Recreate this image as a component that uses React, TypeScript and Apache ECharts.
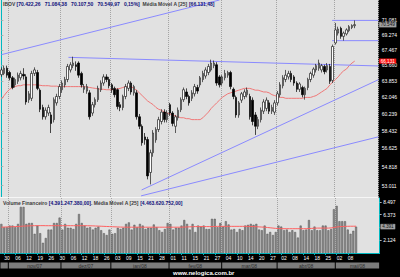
import React, { useEffect, useRef } from 'react';
import * as echarts from 'echarts';

const dates = [
  '2007-10-29','2007-10-30','2007-10-31',
  '2007-11-01','2007-11-05','2007-11-06','2007-11-07','2007-11-08','2007-11-09','2007-11-12','2007-11-13','2007-11-14','2007-11-16','2007-11-19','2007-11-21','2007-11-22','2007-11-23','2007-11-26','2007-11-27','2007-11-28','2007-11-29','2007-11-30',
  '2007-12-03','2007-12-04','2007-12-05','2007-12-06','2007-12-07','2007-12-10','2007-12-11','2007-12-12','2007-12-13','2007-12-14','2007-12-17','2007-12-18','2007-12-19','2007-12-20','2007-12-21','2007-12-26','2007-12-27','2007-12-28',
  '2008-01-02','2008-01-03','2008-01-04','2008-01-07','2008-01-08','2008-01-09','2008-01-10','2008-01-11','2008-01-14','2008-01-15','2008-01-16','2008-01-17','2008-01-18','2008-01-21','2008-01-22','2008-01-23','2008-01-24','2008-01-28','2008-01-29','2008-01-30','2008-01-31',
  '2008-02-01','2008-02-06','2008-02-07','2008-02-08','2008-02-11','2008-02-12','2008-02-13','2008-02-14','2008-02-15','2008-02-18','2008-02-19','2008-02-20','2008-02-21','2008-02-22','2008-02-25','2008-02-26','2008-02-27','2008-02-28','2008-02-29',
  '2008-03-03','2008-03-04','2008-03-05','2008-03-06','2008-03-07','2008-03-10','2008-03-11','2008-03-12','2008-03-13','2008-03-14','2008-03-17','2008-03-18','2008-03-19','2008-03-20','2008-03-24','2008-03-25','2008-03-26','2008-03-27','2008-03-28','2008-03-31',
  '2008-04-01','2008-04-02','2008-04-03','2008-04-04','2008-04-07','2008-04-08','2008-04-09','2008-04-10','2008-04-11','2008-04-14','2008-04-15','2008-04-16','2008-04-17','2008-04-18','2008-04-22','2008-04-23','2008-04-24','2008-04-25','2008-04-28','2008-04-29','2008-04-30',
  '2008-05-02','2008-05-05','2008-05-06','2008-05-07','2008-05-08','2008-05-09','2008-05-12','2008-05-13',
  '2008-05-14','2008-05-15','2008-05-16','2008-05-19','2008-05-20','2008-05-21','2008-05-22','2008-05-23'
];

const opens = [
  64550,64700,65300,64800,64200,63400,63800,64200,64600,64300,
  61750,61900,64700,64800,62800,60900,59900,60300,60100,59600,
  61400,62100,62850,63400,64000,65100,65600,65700,65900,64700,
  62900,62700,62500,60300,61200,61750,62850,63600,64300,64000,
  63400,63000,62850,61200,60900,62100,63000,63600,62500,62500,
  59900,58900,57800,57530,54260,56200,57500,58560,59400,60400,
  59600,61200,60300,58900,59800,60660,61750,62600,62100,61900,
  62400,63100,63400,64000,64400,64800,65100,65600,65700,64300,
  63600,64200,64500,64800,62900,62000,60100,61700,62100,62300,
  62100,61700,60100,58900,59600,60500,60800,61400,60500,60400,
  61400,62300,63300,64000,64300,64700,64300,63600,62900,63100,
  62300,63100,64000,64500,65100,65300,65100,65500,65100,65500,
  63900,68300,69500,70100,69100,69400,69800,70200,70422.26
];
const closes = [
  65100,65300,64500,64200,63100,64000,64500,64700,64400,61500,
  62400,64700,65100,63000,60700,59900,60600,60900,59200,61750,
  62100,63200,63600,64000,65500,65700,65900,65500,64500,63400,
  63200,63200,59900,61200,61750,63000,63600,64300,64000,63300,
  62850,62300,61000,60900,62100,63200,63600,62600,63200,59900,
  58900,57200,57500,53930,56200,58200,58560,59600,60400,59600,
  60300,60300,59200,59900,60600,61750,62850,62100,61400,62500,
  63200,62700,64200,64700,65100,65500,65900,65900,63600,63400,
  64300,64700,64800,63200,62100,60100,61400,62400,62600,62800,
  59900,59400,58900,59600,60600,61500,61700,60500,60900,61400,
  62400,63400,64200,64500,64700,64000,63600,62900,63500,62300,
  63000,64000,64700,65200,65600,65900,65600,64900,65600,63800,
  67870,69900,70000,69100,69500,69900,70300,70444,70549.97
];
const lows = [
  64300,64500,64200,63900,62900,63100,63500,63900,64000,61200,
  61400,61600,64400,62800,60400,59600,59600,60000,58200,59300,
  61100,61800,62500,63100,63700,64800,65300,65000,64200,63100,
  62500,62400,59600,60000,60900,61500,62600,63300,63700,63000,
  62500,62000,60700,60500,60600,61800,62700,62300,62200,59600,
  58600,56900,57000,53600,53120,55800,57200,58300,59100,59300,
  59300,60000,58900,58200,59500,60400,61500,61800,61100,61600,
  62100,62400,63100,63700,64100,64500,64900,65300,63300,63100,
  63300,63900,64200,62900,61800,59800,59800,61400,61800,62000,
  59600,59000,58000,58600,59300,60200,60500,60200,60200,60100,
  61100,62000,63000,63700,64000,63700,63300,62600,62600,62000,
  61750,62800,63700,64200,64800,65000,64800,64600,64800,63500,
  63600,68100,69200,68800,68580,69200,69600,70000,70107.5
];
const highs = [
  65400,65600,65600,65000,64400,64200,64800,65000,65300,64600,
  62700,65000,65400,65100,63000,61200,60900,61200,60400,62000,
  62400,63500,63900,64300,65800,66000,66650,66100,66100,64900,
  63500,63500,62800,61500,62000,63300,63900,64600,64600,64300,
  63600,63200,63000,61500,62300,63500,63900,63800,63400,62800,
  60200,59100,58200,57800,56500,58500,58800,59900,60700,60700,
  60600,61400,60500,60100,60900,62000,63100,63000,62300,62800,
  63500,63400,64400,65000,65400,65800,66300,66200,66000,64500,
  64500,65100,65000,65000,63100,62200,61600,62600,62900,63100,
  62400,62000,60400,59900,60900,61800,62000,61700,61200,61700,
  62700,63700,64500,65100,65000,65000,64500,63800,63700,63300,
  63200,64200,64900,65400,65800,66300,65800,65700,65900,65800,
  68100,70770,70300,70300,69700,70100,70500,70600,71084.38
];

const ma25 = [61800,62200,62600,62900,63100,63200,63300,63300,63400,63400,63400,63400,63400,63400,63350,63300,63300,63300,63250,63250,63250,63200,63200,63200,63200,63200,63200,63200,63200,63200,63200,63150,63100,63050,63000,62950,62900,62900,62850,62850,62850,62900,62950,63000,63100,63200,63200,63200,63000,62800,62500,62200,61900,61600,61400,61200,60900,60700,60600,60400,60300,60200,60100,60000,59900,59800,59800,59700,59700,59600,59600,59600,59600,59800,60100,60400,60800,61100,61400,61700,62000,62200,62400,62500,62600,62700,62800,62900,63000,63000,63000,62900,62800,62800,62700,62600,62600,62500,62300,62200,62100,62000,62000,61900,61900,61900,61900,61900,61900,61900,62000,62000,62000,62100,62200,62400,62600,62800,63000,63400,63700,64000,64300,64700,65000,65200,65600,65900,66131.48];

// financial volume, in millions of R$
const volumes = [4850,4300,4300,4570,4570,4300,4850,7680,7680,4850,5000,5000,3200,4570,3300,1700,2500,3900,3900,5000,5000,5900,3900,4850,4200,4200,4000,4850,6500,5000,4570,4200,4300,3900,4200,4400,3800,3300,3000,3900,3200,3300,4200,4000,4200,4850,5100,3900,4700,4300,4850,4570,4000,4200,4200,4750,4300,3800,3500,4000,5000,4850,3900,4200,4200,4570,5500,4850,3900,4850,3500,4570,4400,4570,4000,4000,5700,5700,4300,5000,4400,5300,4750,3900,4000,3500,4000,3800,4570,4700,4850,4700,4850,3900,3800,4570,3200,3500,3000,3500,4570,4400,3800,3900,3500,3800,3500,2570,4570,3800,3900,5500,3800,4400,3800,3800,4570,4570,3800,4000,7300,7850,5300,5300,5300,3900,3200,3700,4391.24738];
const volMa25 = [4300,4320,4340,4360,4380,4400,4420,4450,4480,4500,4520,4540,4550,4560,4560,4560,4550,4550,4550,4550,4550,4550,4550,4550,4550,4550,4550,4550,4550,4550,4550,4540,4530,4520,4500,4480,4460,4440,4420,4400,4380,4360,4340,4320,4310,4300,4300,4300,4300,4300,4300,4300,4300,4300,4300,4300,4300,4300,4300,4300,4300,4300,4300,4300,4300,4300,4320,4340,4360,4380,4400,4400,4400,4400,4400,4400,4400,4420,4440,4440,4440,4440,4440,4440,4440,4440,4440,4440,4440,4440,4420,4400,4380,4350,4320,4300,4250,4200,4150,4100,4080,4050,4050,4050,4050,4050,4050,4050,4050,4050,4050,4070,4100,4130,4150,4150,4150,4150,4150,4180,4250,4330,4380,4420,4440,4450,4460,4460,4463.620752];

const priceTicks = [53011, 54818, 56625, 58432, 60239, 62046, 63853, 65660, 67467, 69274, 71081];
const volumeTicks = [2124.25, 4248.5, 6372.75, 8497];
const volumeTickLabels = [2124.25, 6372.75, 8497];

// trend lines: [index on the date axis, price]
const trendLineA = [[0, 66890], [79.0, 73710]];
const trendLineB = [[24.3, 66570], [136.5, 65560]];
const trendLineC = [[50.8, 52600], [136.5, 63970]];
const trendLineD = [[50.6, 52050], [136.5, 57800]];
const resistanceLine = [[119.8, 71084.38], [136.5, 71084.38]];
const supportLine = [[119.8, 68576], [136.5, 68576]];

const monthNames = ['jan', 'fev', 'mar', 'abr', 'mai', 'jun', 'jul', 'ago', 'set', 'out', 'nov', 'dez'];

const FONT = 'Liberation Sans';
const BAND = 2.771;

function fmtBR(v: number, dec: number) {
  const s = v.toFixed(dec);
  const [ip, dp] = s.split('.');
  const g = ip.replace(/\B(?=(\d{3})+(?!\d))/g, '.');
  return dp ? g + ',' + dp : g;
}
const fmtTrunc = (v: number) => fmtBR(Math.floor(v), 0);

function buildOption() {
  const N = dates.length;
  const nData = closes.length;
  const W = N * BAND;
  const last = nData - 1;
  const candles = opens.map((o, i) => [o, closes[i], lows[i], highs[i]]);
  const chg = (closes[last] / closes[last - 1] - 1) * 100;

  const groups: { key: string; s: number; e: number; label: string }[] = [];
  dates.forEach((d, i) => {
    const key = d.slice(0, 7);
    const g = groups[groups.length - 1];
    if (!g || g.key !== key) {
      groups.push({ key, s: i, e: i, label: monthNames[+d.slice(5, 7) - 1] + '/' + d.slice(2, 4) });
    } else g.e = i;
  });
  const monthStarts = new Set(groups.slice(1).map((g) => g.s));
  const isMonthStart = (i: number) => monthStarts.has(i);
  const isDayLabel = (i: number) => i < nData && i % 4 === 1;

  const dotted = { show: true, interval: isMonthStart, lineStyle: { color: '#a4a4a4', type: 'dotted' as const, width: 1 } };
  const cyan = '#00b8c0';

  const mainHeader =
    `{n|IBOV} {v|[${fmtBR(opens[last], 2)}   ${fmtBR(highs[last], 2)}   ${fmtBR(lows[last], 2)}   ${fmtBR(closes[last], 2)}   ${fmtBR(chg, 2)}%]}  {n|Média Móvel A [25]} {v|[${fmtBR(ma25[last], 2)}]}`;
  const volHeader =
    `{n|Volume Financeiro} {v|[${fmtBR(volumes[last] * 1e6, 2)}]}{n|. Média Móvel A [25]} {v|[${fmtBR(volMa25[last] * 1e6, 2)}]}`;
  const rich = {
    n: { color: '#3c3c3c', fontSize: 5, fontFamily: FONT },
    v: { color: '#10107a', fontSize: 5, fontFamily: FONT },
  };

  const lineSeries = (data: number[][]) => ({
    type: 'line',
    xAxisIndex: 3,
    yAxisIndex: 0,
    data,
    symbol: 'none',
    clip: true,
    silent: true,
    lineStyle: { color: '#8a8aff', width: 1 },
    z: 3,
  });

  const priceAxisBase = {
    gridIndex: 0,
    type: 'log' as const,
    logBase: 10,
    min: 51900,
    max: 73710,
    position: 'right' as const,
    splitLine: { show: false },
  };
  const boxLabel = { fontSize: 4.6, fontFamily: FONT, padding: [0.3, 1.5, 0, 1.5], margin: 1, lineHeight: 4.8 };

  return {
    animation: false,
    backgroundColor: '#000',
    title: [
      { text: mainHeader, left: 3, top: 1, padding: 0, textStyle: { fontSize: 5, fontFamily: FONT, rich } },
      { text: volHeader, left: 3, top: 200, padding: 0, textStyle: { fontSize: 5, fontFamily: FONT, rich } },
      {
        text: 'www.nelogica.com.br', left: 173, top: 270, padding: 0,
        textStyle: { color: '#ffffff', fontSize: 6, fontWeight: 'bold', fontFamily: FONT },
      },
    ],
    grid: [
      { left: 0, top: 0, width: W, height: 197.5, show: true, backgroundColor: '#e1e1e1', borderWidth: 0 },
      { left: 0, top: 198, width: W, height: 55, show: true, backgroundColor: '#e1e1e1', borderWidth: 0 },
      { left: 0, top: 262.5, width: W, height: 6, show: false },
    ],
    xAxis: [
      {
        gridIndex: 0, type: 'category', data: dates, boundaryGap: true,
        axisLine: { show: true, lineStyle: { color: '#f6f6f6', width: 1 } },
        axisTick: { show: false }, axisLabel: { show: false }, splitLine: dotted,
      },
      {
        gridIndex: 1, type: 'category', data: dates, boundaryGap: true,
        axisLine: { show: true, lineStyle: { color: cyan, width: 1 } },
        axisTick: { show: true, interval: isDayLabel, alignWithLabel: true, length: 2, lineStyle: { color: cyan } },
        axisLabel: {
          show: true, interval: isDayLabel, formatter: (d: string) => d.slice(8, 10),
          color: '#ffffff', fontSize: 5, fontFamily: FONT, align: 'left', margin: 2.5,
        },
        splitLine: dotted,
      },
      { gridIndex: 2, type: 'category', data: dates, boundaryGap: true, show: false },
      { gridIndex: 0, type: 'value', min: -0.5, max: N - 0.5, show: false },
    ],
    yAxis: [
      {
        ...priceAxisBase,
        axisLine: { show: true, lineStyle: { color: cyan, width: 1 } },
        axisTick: { show: true, length: 2, customValues: priceTicks, lineStyle: { color: '#b0b0b0' } },
        axisLabel: {
          customValues: priceTicks, formatter: (v: number) => fmtBR(v, 0),
          color: '#ffffff', fontSize: 5, fontFamily: FONT, margin: 3.5,
        },
      },
      {
        ...priceAxisBase,
        axisLine: { show: false }, axisTick: { show: false },
        axisLabel: {
          ...boxLabel, customValues: [ma25[last]], formatter: fmtTrunc, color: '#ffffff', backgroundColor: '#ff1010',
        },
      },
      {
        ...priceAxisBase,
        axisLine: { show: false }, axisTick: { show: false },
        axisLabel: {
          ...boxLabel, customValues: [closes[last]], formatter: fmtTrunc, color: '#101010',
          backgroundColor: '#a0a0a0', borderColor: '#303030', borderWidth: 0.5,
        },
      },
      {
        gridIndex: 1, type: 'value', min: 0, max: 9163, position: 'right',
        splitLine: { show: false },
        axisLine: { show: true, lineStyle: { color: cyan, width: 1 } },
        axisTick: { show: true, length: 2, customValues: volumeTicks, lineStyle: { color: '#b0b0b0' } },
        axisLabel: {
          customValues: volumeTickLabels, formatter: (v: number) => fmtBR(v, 0),
          color: '#ffffff', fontSize: 5, fontFamily: FONT, margin: 3.5,
        },
      },
      {
        gridIndex: 1, type: 'value', min: 0, max: 9163, position: 'right',
        splitLine: { show: false }, axisLine: { show: false }, axisTick: { show: false },
        axisLabel: {
          ...boxLabel, customValues: [volumes[last]], formatter: fmtTrunc, color: '#101010',
          backgroundColor: '#a0a0a0', borderColor: '#303030', borderWidth: 0.5,
        },
      },
      { gridIndex: 2, type: 'value', min: 0, max: 1, show: false },
    ],
    series: [
      {
        type: 'candlestick', xAxisIndex: 0, yAxisIndex: 0, data: candles, barWidth: 2,
        itemStyle: { color: '#ffffff', color0: '#000000', borderColor: '#202020', borderColor0: '#000000', borderWidth: 0.7 },
        z: 4,
      },
      {
        type: 'line', xAxisIndex: 0, yAxisIndex: 0, data: ma25, symbol: 'none', silent: true,
        lineStyle: { color: '#f07878', width: 1 }, z: 3,
      },
      lineSeries(trendLineA),
      lineSeries(trendLineB),
      lineSeries(trendLineC),
      lineSeries(trendLineD),
      lineSeries(resistanceLine),
      lineSeries(supportLine),
      {
        type: 'bar', xAxisIndex: 1, yAxisIndex: 3, data: volumes, barWidth: 2,
        itemStyle: { color: '#8c8c8c', borderColor: '#505050', borderWidth: 0.5 },
      },
      {
        type: 'line', xAxisIndex: 1, yAxisIndex: 3, data: volMa25, symbol: 'none', silent: true,
        lineStyle: { color: '#ff6060', width: 1 }, z: 3,
      },
      {
        type: 'custom', xAxisIndex: 2, yAxisIndex: 5, silent: true,
        data: groups.map((g) => [g.s, g.e]),
        renderItem: (params: any, api: any) => {
          const g = groups[params.dataIndex];
          const p0 = api.coord([api.value(0), 0]);
          const p1 = api.coord([api.value(1), 0]);
          const bw = api.size([1, 0])[0];
          const cs = params.coordSys;
          const x0 = p0[0] - bw / 2 + 0.5;
          const x1 = p1[0] + bw / 2 - 0.5;
          const children: any[] = [
            { type: 'rect', shape: { x: x0, y: cs.y, width: x1 - x0, height: cs.height }, style: { fill: '#7c7c7c' } },
          ];
          if (x1 - x0 > 20) {
            children.push({
              type: 'text',
              style: {
                text: g.label, x: (x0 + x1) / 2, y: cs.y + cs.height / 2, align: 'center', verticalAlign: 'middle',
                fill: '#2c2c2c', fontSize: 5, fontFamily: FONT,
              },
            });
          }
          return { type: 'group', children };
        },
      },
    ],
  };
}

export default function App() {
  const ref = useRef<HTMLDivElement>(null);
  useEffect(() => {
    document.body.style.margin = '0';
    const chart = echarts.init(ref.current as HTMLDivElement, null, { renderer: 'svg' });
    chart.setOption(buildOption() as any);
    return () => chart.dispose();
  }, []);
  return <div ref={ref} style={{ width: 400, height: 277, background: '#000' }} />;
}
